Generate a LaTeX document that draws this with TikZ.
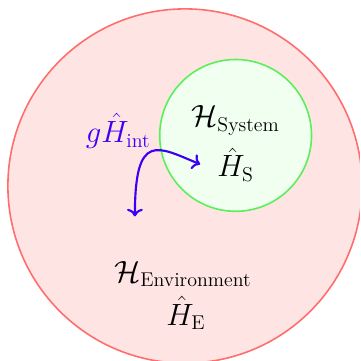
\documentclass[tikz,border=0pt]{standalone}
\usepackage{amsmath}
\usetikzlibrary{arrows.meta}
\definecolor{envred}{RGB}{255,110,110}
\definecolor{envfill}{RGB}{255,228,228}
\definecolor{sysgreen}{RGB}{90,240,90}
\definecolor{sysfill}{RGB}{240,255,240}
\definecolor{intblue}{RGB}{60,0,245}
\begin{document}
\begin{tikzpicture}[
  >=To,
  every node/.style={font=\fontsize{16}{19}\selectfont},
  envcircle/.style={draw=envred,fill=envfill,line width=0.9pt},
  syscircle/.style={draw=sysgreen,fill=sysfill,line width=0.9pt},
  coupling/.style={very thick,intblue}
]
\useasboundingbox (-3.656,-3.458) rectangle (3.458,3.676);
\clip (-3.656,-3.458) rectangle (3.458,3.676);
\draw[envcircle] (0,0) circle (3.5);
\draw[syscircle] (1,1) circle (1.5);
\node (hsys) at (1,1.30) {$\mathcal{H}_{\text{System}}$};
\node (hs) at (1,0.42) {$\hat{H}_{\text{S}}$};
\node[text=intblue] (hint) at (-1.32,1.09) {$g\hat{H}_{\text{int}}$};
\node (henv) at (-0.04,-1.74) {$\mathcal{H}_{\text{Environment}}$};
\node (he) at (0.02,-2.51) {$\hat{H}_{\text{E}}$};
\coordinate (envend) at (-0.99,-0.6);
\coordinate (sysend) at (0.3,0.43);
\draw[coupling,<->] (envend) .. controls (-0.99,1.1) and (-0.53,0.77) .. (sysend);
\end{tikzpicture}
\end{document}
